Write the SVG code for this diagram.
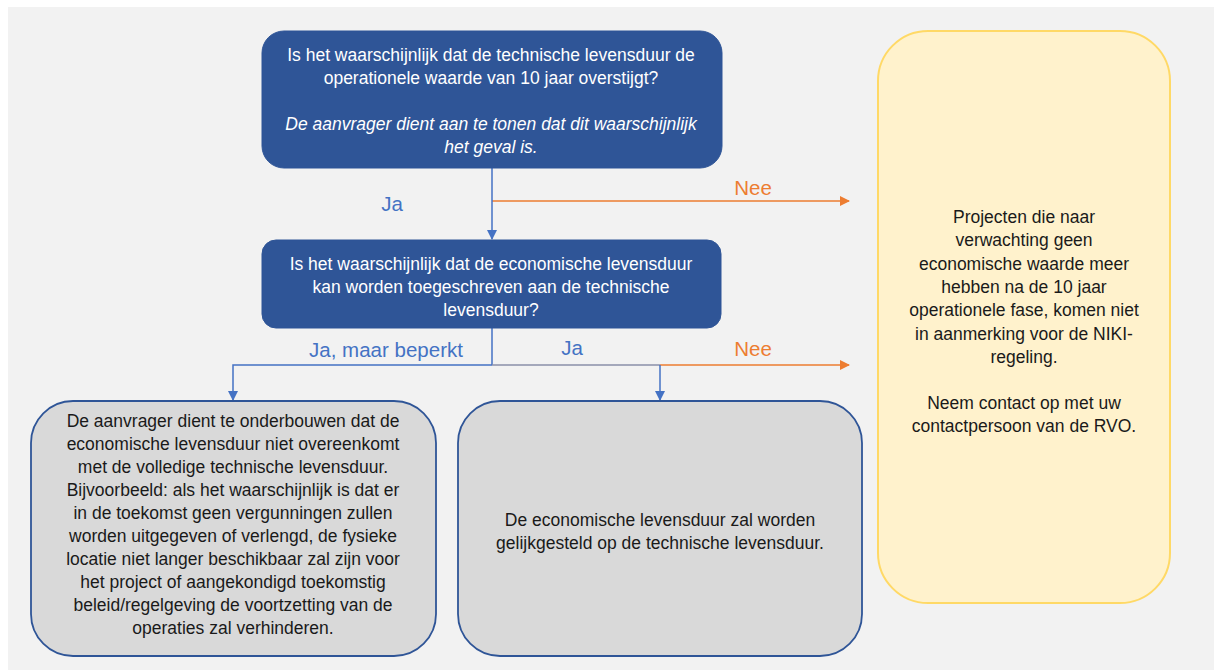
<svg xmlns="http://www.w3.org/2000/svg" width="1214" height="670" viewBox="0 0 1214 670">
<style>
.q{fill:#2F5597;stroke:#2F5597;stroke-width:1}
.g{fill:#D9D9D9;stroke:#2F5597;stroke-width:1.8}
.y{fill:#FFF2CC;stroke:#FFD966;stroke-width:2}
.tw{font-family:"Liberation Sans",Arial,sans-serif;font-size:17.5px;fill:#FFFFFF;text-anchor:middle}
.tb{font-family:"Liberation Sans",Arial,sans-serif;font-size:17.5px;fill:#1A1A1A;text-anchor:middle}
.lb{font-family:"Liberation Sans",Arial,sans-serif;font-size:20.5px;fill:#4472C4}
.lo{font-family:"Liberation Sans",Arial,sans-serif;font-size:20.5px;fill:#ED7D31}
.cb{stroke:#4472C4;stroke-width:1.5;fill:none}
.co{stroke:#ED7D31;stroke-width:1.5;fill:none}
</style>
<defs>
<marker id="ab" markerWidth="10" markerHeight="10" refX="9" refY="5" orient="auto" markerUnits="userSpaceOnUse"><path d="M0,0 L10,5 L0,10 Z" fill="#4472C4"/></marker>
<marker id="ao" markerWidth="10" markerHeight="10" refX="9" refY="5" orient="auto" markerUnits="userSpaceOnUse"><path d="M0,0 L10,5 L0,10 Z" fill="#ED7D31"/></marker>
</defs>
<rect x="0" y="0" width="1214" height="670" fill="#FFFFFF"/>
<rect x="8" y="7" width="1206" height="663" fill="#F2F2F2"/>

<g id="connectors">
<line class="co" x1="492" y1="201" x2="849" y2="201" marker-end="url(#ao)"/>
<line class="cb" x1="492" y1="168" x2="492" y2="239" marker-end="url(#ab)"/>
<line class="cb" x1="492" y1="328" x2="492" y2="365"/>
<line class="co" x1="660" y1="365" x2="849" y2="365" marker-end="url(#ao)"/>
<line stroke="#8A8FA8" stroke-width="1.5" x1="492" y1="365" x2="660" y2="365"/>
<polyline class="cb" points="492,365 233,365 233,400" marker-end="url(#ab)"/>
<line class="cb" stroke="#7D93C0" x1="660" y1="365" x2="660" y2="400" marker-end="url(#ab)"/>
<text class="lb" x="392" y="211" text-anchor="middle">Ja</text>
<text class="lo" x="753" y="195" text-anchor="middle">Nee</text>
<text class="lb" x="386" y="357" text-anchor="middle">Ja, maar beperkt</text>
<text class="lb" x="572" y="355" text-anchor="middle">Ja</text>
<text class="lo" x="753" y="356" text-anchor="middle">Nee</text>
</g>

<g id="q1">
<rect class="q" x="262" y="31" width="460" height="137" rx="22"/>
<text class="tw" x="491" y="61">Is het waarschijnlijk dat de technische levensduur de</text>
<text class="tw" x="491" y="84">operationele waarde van 10 jaar overstijgt?</text>
<text class="tw" x="491" y="130" font-style="italic">De aanvrager dient aan te tonen dat dit waarschijnlijk</text>
<text class="tw" x="491" y="153" font-style="italic">het geval is.</text>
</g>

<g id="q2">
<rect class="q" x="262" y="240" width="459" height="88" rx="14"/>
<text class="tw" x="491" y="270">Is het waarschijnlijk dat de economische levensduur</text>
<text class="tw" x="491" y="293">kan worden toegeschreven  aan de technische</text>
<text class="tw" x="491" y="316">levensduur?</text>
</g>

<g id="beperkt">
<rect class="g" x="31" y="401" width="405" height="255" rx="42"/>
<text class="tb" x="233" y="427">De aanvrager dient te onderbouwen dat de</text>
<text class="tb" x="233" y="450">economische levensduur niet overeenkomt</text>
<text class="tb" x="233" y="473">met de volledige technische levensduur.</text>
<text class="tb" x="233" y="496">Bijvoorbeeld: als het waarschijnlijk is dat er</text>
<text class="tb" x="233" y="519">in de toekomst geen vergunningen zullen</text>
<text class="tb" x="233" y="542">worden uitgegeven of verlengd, de fysieke</text>
<text class="tb" x="233" y="565">locatie niet langer beschikbaar zal zijn voor</text>
<text class="tb" x="233" y="588">het project of aangekondigd toekomstig</text>
<text class="tb" x="233" y="611">beleid/regelgeving de voortzetting van de</text>
<text class="tb" x="233" y="634">operaties zal verhinderen.</text>
</g>

<g id="ja">
<rect class="g" x="458" y="401" width="404" height="255" rx="42"/>
<text class="tb" x="660" y="526">De economische levensduur zal worden</text>
<text class="tb" x="660" y="549">gelijkgesteld op de technische levensduur.</text>
</g>

<g id="nee">
<rect class="y" x="878" y="31" width="292" height="572" rx="50"/>
<text class="tb" x="1024" y="223">Projecten die naar</text>
<text class="tb" x="1024" y="246">verwachting geen</text>
<text class="tb" x="1024" y="270">economische waarde meer</text>
<text class="tb" x="1024" y="293">hebben na de 10 jaar</text>
<text class="tb" x="1024" y="316">operationele fase, komen niet</text>
<text class="tb" x="1024" y="340">in aanmerking voor de NIKI-</text>
<text class="tb" x="1024" y="363">regeling.</text>
<text class="tb" x="1024" y="409">Neem contact op met uw</text>
<text class="tb" x="1024" y="432">contactpersoon van de RVO.</text>
</g>
</svg>
